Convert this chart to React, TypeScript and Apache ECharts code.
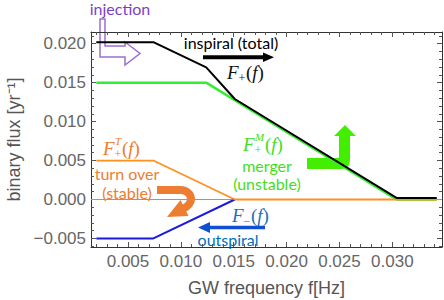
import React, { useEffect, useRef } from "react";
import * as echarts from "echarts";

// ---- data ----
const totalFlux: [number, number][] = [
  [0.002, 0.0202], [0.0074, 0.0202], [0.0124, 0.01695], [0.0151, 0.0129], [0.0304, 0.0002], [0.0342, 0.0002],
];
const mergerFlux: [number, number][] = [
  [0.002, 0.015], [0.0124, 0.015], [0.0304, 0.0], [0.0342, 0.0],
];
const turnOverFlux: [number, number][] = [
  [0.002, 0.005], [0.0074, 0.005], [0.0151, 0.0], [0.0342, 0.0],
];
const outspiralFlux: [number, number][] = [
  [0.002, -0.005], [0.0074, -0.005], [0.0151, 0.0],
];
const xTicks = [0.005, 0.01, 0.015, 0.02, 0.025, 0.03];
const yTicks = [-0.005, 0, 0.005, 0.01, 0.015, 0.02];
const xMinorTicks = [0.002, 0.003, 0.004, 0.006, 0.007, 0.008, 0.009, 0.011, 0.012, 0.013, 0.014, 0.016, 0.017, 0.018, 0.019, 0.021, 0.022, 0.023, 0.024, 0.026, 0.027, 0.028, 0.029, 0.031, 0.032, 0.033, 0.034];
const yMinorTicks = [-0.006, -0.004, -0.003, -0.002, -0.001, 0.001, 0.002, 0.003, 0.004, 0.006, 0.007, 0.008, 0.009, 0.011, 0.012, 0.013, 0.014, 0.016, 0.017, 0.018, 0.019, 0.021];
const xRange = [0.0015, 0.0347];
const yRange = [-0.0061, 0.0215];

// ---- arrow shapes ----
const greenArrowD =
  "M307 158 L339 158 L339 136 L334 136 L345 125 L356 136 L350 136 L350 160 Q350 169 341 169 L307 169 Z";
const orangeArrowD =
  "M157 186 L180 186 C189 186 195 192 195 199 C195 204 191 209 186.3 211.6 L188.5 216 L167 217 L180.5 200 L182.7 204.4 C185.5 203 187 201 187 199 C187 196 184 194 180 194 L157 194 Z";
echarts.graphic.registerShape("greenArrow", echarts.graphic.extendPath(greenArrowD, {}) as any);
echarts.graphic.registerShape("orangeArrow", echarts.graphic.extendPath(orangeArrowD, {}) as any);

const SERIF = '"Liberation Serif"';
const CAL = "Lato";

function mathLabel(x: number, y: number, sup: string, sub: string, color: string) {
  const children: any[] = [
    { type: "text", x, y, style: { text: "F", font: `italic 19px ${SERIF}`, fill: color, verticalAlign: "middle", align: "left" } },
  ];
  if (sup) {
    children.push({ type: "text", x: x + 12, y: y - 7, style: { text: sup, font: `italic 11px ${SERIF}`, fill: color, verticalAlign: "middle", align: "left" } });
  }
  children.push({ type: "text", x: x + 11.5, y: y + 6, style: { text: sub, font: `12px ${SERIF}`, fill: color, verticalAlign: "middle", align: "left" } });
  const w = sup === "M" ? 10 : 7;
  children.push({
    type: "text", x: x + 12 + w, y,
    style: {
      text: "{u|(}{i|f}{u|)}", fill: color, verticalAlign: "middle", align: "left",
      rich: {
        u: { font: `19px ${SERIF}`, fill: color },
        i: { font: `italic 19px ${SERIF}`, fill: color },
      },
    },
  });
  return { type: "group", children };
}

function label(text: string, x: number, y: number, color: string) {
  return { type: "text", x, y, style: { text, fill: color, font: `16px ${CAL}`, align: "center", verticalAlign: "middle" } };
}

const tickFmt = (v: number) => (v < 0 ? "\u2212" : "") + Math.abs(v).toFixed(3);

const frameColor = "#333";
const tickColor = "#555";
const labelColor = "#666";

function xAxisDef(position: string, major: boolean, showLabel: boolean) {
  return {
    type: "value", min: xRange[0], max: xRange[1], position,
    axisLine: { show: major, onZero: false, lineStyle: { color: frameColor, width: 1 } },
    axisTick: { show: true, inside: true, length: major ? 5 : 3, customValues: major ? xTicks : xMinorTicks, lineStyle: { color: tickColor } },
    axisLabel: {
      show: showLabel, customValues: xTicks, formatter: tickFmt, margin: 6,
      fontSize: 17, fontFamily: "Liberation Sans", color: labelColor,
    },
    splitLine: { show: false },
    name: showLabel ? "GW frequency f[Hz]" : "",
    nameLocation: "middle", nameGap: 32,
    nameTextStyle: { fontSize: 18, fontFamily: "Liberation Sans", color: "#555" },
  };
}
function yAxisDef(position: string, major: boolean, showLabel: boolean) {
  return {
    type: "value", min: yRange[0], max: yRange[1], position,
    axisLine: { show: major, onZero: false, lineStyle: { color: frameColor, width: 1 } },
    axisTick: { show: true, inside: true, length: major ? 5 : 3, customValues: major ? yTicks : yMinorTicks, lineStyle: { color: tickColor } },
    axisLabel: {
      show: showLabel, customValues: yTicks, formatter: tickFmt, margin: 5,
      fontSize: 17, fontFamily: "Liberation Sans", color: labelColor,
    },
    splitLine: { show: false },
    name: showLabel ? "binary flux [yr\u207B\u00B9]" : "",
    nameLocation: "middle", nameGap: 66,
    nameTextStyle: { fontSize: 18, fontFamily: "Liberation Sans", color: "#555" },
  };
}

export default function App() {
  const ref = useRef<HTMLDivElement>(null);
  useEffect(() => {
    if (!ref.current) return;
    const chart = echarts.init(ref.current, null, { renderer: "svg" });
    const option: any = {
      animation: false,
      backgroundColor: "#fff",
      grid: { left: 91, top: 32, right: 2, bottom: 53, containLabel: false, outerBoundsMode: "none" },
      xAxis: [
        xAxisDef("bottom", true, true),
        xAxisDef("bottom", false, false),
        xAxisDef("top", true, false),
        xAxisDef("top", false, false),
      ],
      yAxis: [
        yAxisDef("left", true, true),
        yAxisDef("left", false, false),
        yAxisDef("right", true, false),
        yAxisDef("right", false, false),
      ],
      series: [
        {
          name: "outspiral", type: "line", data: outspiralFlux, symbol: "none",
          lineStyle: { color: "#1a1ae0", width: 2 },
          markLine: {
            silent: true, symbol: "none", z: 1, label: { show: false },
            lineStyle: { color: "#999", width: 1, type: "solid" },
            data: [{ yAxis: 0 }],
          },
        },
        { name: "merger", type: "line", data: mergerFlux, symbol: "none", lineStyle: { color: "#33ee33", width: 2.5 } },
        { name: "turn over", type: "line", data: turnOverFlux, symbol: "none", lineStyle: { color: "#ff9020", width: 1.8 } },
        { name: "total", type: "line", data: totalFlux, symbol: "none", lineStyle: { color: "#000", width: 2 } },
      ],
      graphic: [
        // injection
        label("injection", 120, 8, "#7b3fc4"),
        {
          type: "polygon",
          shape: { points: [[100, 19], [105, 19], [105, 46], [125, 46], [125, 42], [140, 53.5], [125, 65], [125, 57], [100, 57]] },
          style: { fill: "none", stroke: "#9b6fd6", lineWidth: 1.5 },
        },
        // inspiral
        label("inspiral (total)", 231, 42, "#000"),
        { type: "line", shape: { x1: 203, y1: 57.3, x2: 264, y2: 57.3 }, style: { stroke: "#000", lineWidth: 4 } },
        { type: "polygon", shape: { points: [[263, 52.5], [274, 57.3], [263, 62]] }, style: { fill: "#000" } },
        mathLabel(227, 72, "", "+", "#111"),
        // merger
        mathLabel(243, 144, "M", "+", "#44dd22"),
        label("merger", 267, 165, "#44dd22"),
        label("(unstable)", 267, 183, "#44dd22"),
        { type: "greenArrow", x: 0, y: 0, style: { fill: "#44ee00" } },
        // turn over
        mathLabel(103, 148, "T", "+", "#ed7d31"),
        label("turn over", 127, 173, "#ed7d31"),
        label("(stable)", 127, 192, "#ed7d31"),
        { type: "orangeArrow", x: 0, y: 0, style: { fill: "#ed7d31" } },
        // outspiral
        mathLabel(232, 215, "", "\u2212", "#1f6fc0"),
        { type: "line", shape: { x1: 208, y1: 227.5, x2: 265, y2: 227.5 }, style: { stroke: "#1050d0", lineWidth: 3.5 } },
        { type: "polygon", shape: { points: [[198, 227.5], [210, 222], [210, 233]] }, style: { fill: "#1050d0" } },
        label("outspiral", 228, 239, "#0070c0"),
      ],
    };
    chart.setOption(option);
    return () => chart.dispose();
  }, []);
  return (
    <div
      ref={ref}
      style={{ position: "fixed", left: 0, top: 0, width: 444, height: 300, background: "#fff" }}
    />
  );
}
